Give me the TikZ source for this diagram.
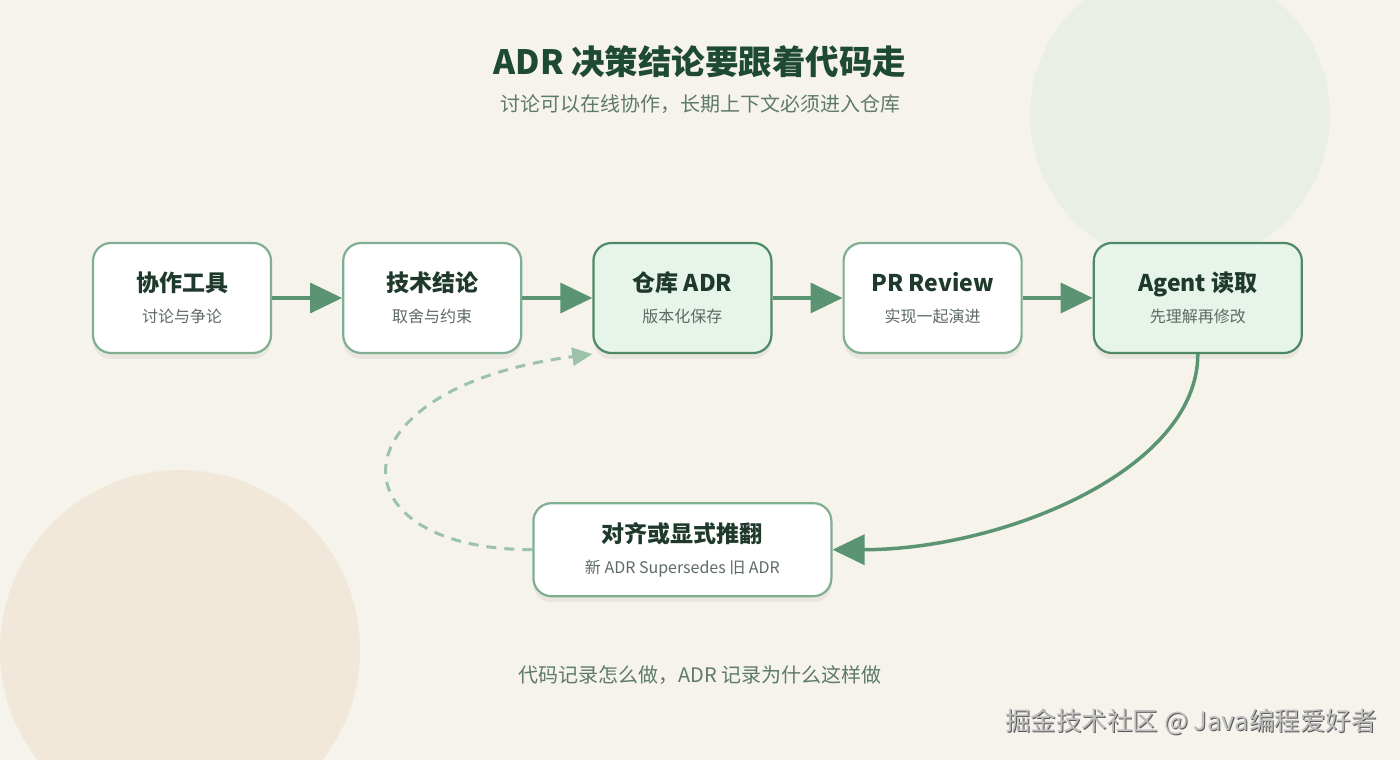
\documentclass[tikz,border=0pt]{standalone}
\usepackage{fontspec}
\setmainfont{Noto Sans CJK SC}
\usetikzlibrary{arrows.meta,positioning,shadows}
\definecolor{bg}{HTML}{F6F3EC}
\definecolor{blobgreen}{HTML}{E9EFE5}
\definecolor{blobsand}{HTML}{F1E8D9}
\definecolor{ink}{HTML}{1E4A33}
\definecolor{cardink}{HTML}{1F3A2C}
\definecolor{muted}{HTML}{5E6B63}
\definecolor{soft}{HTML}{5E7A68}
\definecolor{cardline}{HTML}{7FAE90}
\definecolor{keyline}{HTML}{4E8A66}
\definecolor{keyfill}{HTML}{E6F4EA}
\definecolor{arrowc}{HTML}{5A9473}
\definecolor{dashc}{HTML}{9CC3AA}
\tikzset{
    x=1pt,y=1pt,node distance =70pt and 70pt,
    card/.style ={draw=cardline, line width=2.2pt, fill=white, rounded corners=18pt,
        minimum width=178pt, minimum height=110pt, align=center, inner sep=0pt,
        font=\fontsize{16}{31}\selectfont,
        drop shadow={shadow xshift=0pt, shadow yshift=-6pt, opacity=0.05, fill=black}},
    keycard/.style = {card, draw=keyline, fill=keyfill},
    flow/.style = {draw=arrowc, line width=3.5pt, -{Triangle[length=32pt,width=30pt]}},
    back/.style = {draw=dashc, line width=3pt, dash pattern=on 10pt off 8pt, -{Triangle[length=20pt,width=18pt]}}
}
\newcommand\cardtext[2]{{\fontsize{23}{31}\selectfont\bfseries\color{cardink}#1}\\{\color{muted}#2}}

\begin{document}
\begin{tikzpicture}
    \useasboundingbox (0,0) rectangle (1400,760);
    \clip (0,0) rectangle (1400,760);
    \fill[bg] (0,0) rectangle (1400,760);
    \fill[blobgreen] (1180,645) circle (150);
    \fill[blobsand] (180,110) circle (180);

    \node[font=\fontsize{33.5}{40}\selectfont\bfseries, text=ink] (title) at (700,698) {ADR 决策结论要跟着代码走};
    \node[font=\fontsize{20}{24}\selectfont, text=soft] (sub) at (700,656) {讨论可以在线协作，长期上下文必须进入仓库};

    \node[card] (tool) at (182,462) {\cardtext{协作工具}{讨论与争论}};
    \node[card] (tech) [right=of tool] {\cardtext{技术结论}{取舍与约束}};
    \node[keycard] (repo) [right=of tech] {\cardtext{仓库 ADR}{版本化保存}};
    \node[card] (pr) [right=of repo] {\cardtext{PR Review}{实现一起演进}};
    \node[keycard, minimum width=208pt] (agent) [right=of pr] {\cardtext{Agent 读取}{先理解再修改}};
    \node[card, minimum width=298pt, minimum height=93pt] (align) [below=148pt of repo] {\cardtext{对齐或显式推翻}{新 ADR Supersedes 旧 ADR}};

    \path[flow] (tool) -- (tech);
    \path[flow] (tech) -- (repo);
    \path[flow] (repo) -- (pr);
    \path[flow] (pr) -- (agent);
    \path[flow] (agent.south) .. controls +(0,-116) and +(170,0) .. (align.east);
    \path[back] (align.west) .. controls +(-202,0) and +(-262,-34) .. (repo.south west);

    \node[font=\fontsize{20}{24}\selectfont, text=soft] (foot) at (700,85) {代码记录怎么做，ADR 记录为什么这样做};
    \node[font=\fontsize{25.5}{30}\selectfont, text=black!65, anchor=east] (markshade) at (1381,37) {掘金技术社区 @ Java编程爱好者};
    \node[font=\fontsize{25.5}{30}\selectfont, text=black!25, anchor=east] (mark) at (1380,38) {掘金技术社区 @ Java编程爱好者};
\end{tikzpicture}
\end{document}
